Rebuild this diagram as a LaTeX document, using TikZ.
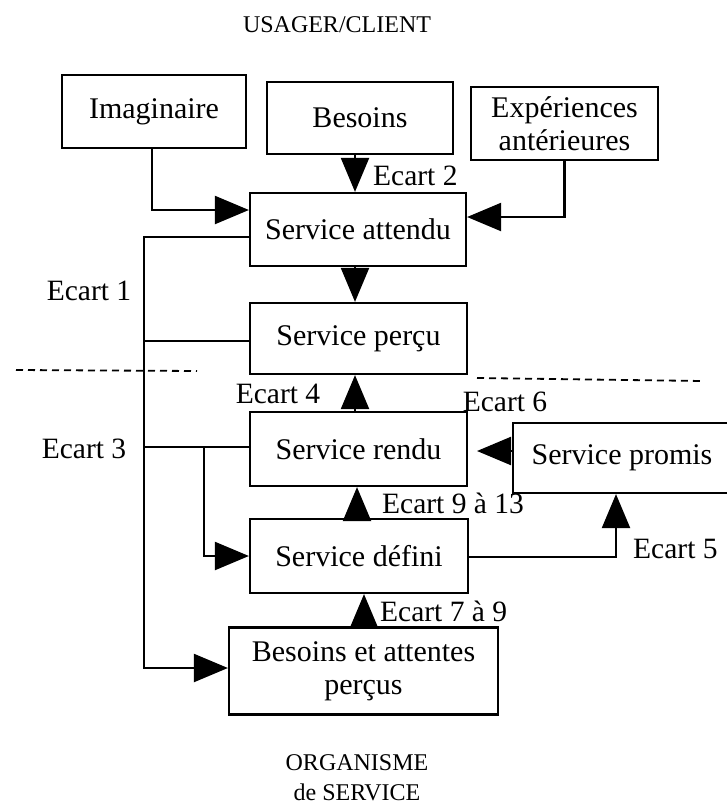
\documentclass[tikz,border=0pt]{standalone}
\usepackage{fontspec}
\setmainfont{Liberation Serif}
\usetikzlibrary{arrows.meta,calc}
\begin{document}
\begin{tikzpicture}[x=1pt,y=-1pt,
  lw/.style={line width=2.2pt},
  box/.style={draw,lw,inner sep=0pt,align=center,font=\fontsize{30}{33}\selectfont},
  lab/.style={inner sep=0pt,font=\fontsize{29.5}{33}\selectfont},
  ttl/.style={inner sep=0pt,align=center,font=\fontsize{24}{30}\selectfont},
  arr/.style={lw,-{Triangle[length=34pt,width=28pt]}},
  ln/.style={lw},
  dsh/.style={line width=1.8pt,dash pattern=on 7pt off 5pt}]
\useasboundingbox (0,0) rectangle (727,806);
% boxes
\node[box,minimum width=184pt,minimum height=73pt] (imag) at (154,111.5) {Imaginaire};
\node[box,minimum width=186pt,minimum height=72pt] (bes) at (360,118) {Besoins};
\node[box,minimum width=187pt,minimum height=73pt] (exp) at (564.5,123.5) {Expériences\\ antérieures};
\node[box,minimum width=216pt,minimum height=73pt] (att) at (358,229.5) {Service attendu};
\node[box,minimum width=217pt,minimum height=71pt] (perc) at (358.5,338.5) {Service perçu};
\node[box,minimum width=217pt,minimum height=74pt] (rendu) at (358.5,449) {Service rendu};
\node[box,minimum width=226pt,minimum height=70pt] (promis) at (626,458) {Service promis\hspace*{8pt}};
\node[box,minimum width=218pt,minimum height=74pt] (def) at (359,556) {Service défini};
\node[box,minimum width=269pt,minimum height=87pt] (bea) at (363.5,671) {Besoins et attentes\\ perçus};
% titles
\node[ttl,anchor=base] (top) at (337,32) {USAGER/CLIENT};
\node[ttl] (bot) at (357,778) {ORGANISME\\ de SERVICE};
% labels
\node[lab,anchor=base west] (e2) at (373,185) {Ecart 2};
\node[lab,anchor=base] (e1) at (89,300) {Ecart 1};
\node[lab,anchor=base] (e4) at (278,403) {Ecart 4};
\node[lab,anchor=base] (e6) at (505,411) {Ecart 6};
\node[lab,anchor=base] (e3) at (84,458) {Ecart 3};
\node[lab,anchor=base west] (e913) at (382,513) {Ecart 9 à 13};
\node[lab,anchor=base west] (e5) at (633,558) {Ecart 5};
\node[lab,anchor=base west] (e79) at (380,621) {Ecart 7 à 9};
% coordinates
\coordinate (L1) at (144,237);
\coordinate (L2) at (144,668);
\coordinate (B1) at (204,447);
\coordinate (R1) at (616,557);
\coordinate (ptip) at (477,451);
\coordinate (dl1) at (16,370);
\coordinate (dl2) at (197,371);
\coordinate (dr1) at (477,378);
\coordinate (dr2) at (702,381);
% connectors
\draw[arr] (imag.south -| 152,0) |- ([yshift=19.5pt]att.west);
\draw[arr] (bes.south -| 355,0) -- (att.north -| 355,0);
\draw[arr] (exp.south) |- ([yshift=12.5pt]att.east);
\draw[arr] (att.south -| 355,0) -- (perc.north -| 355,0);
\draw[arr] (rendu.north -| 355,0) -- (perc.south -| 355,0);
\draw[arr] (def.north -| 357,0) -- (rendu.south -| 357,0);
\draw[arr] (bea.north -| 364,0) -- (def.south -| 364,0);
\draw[arr] (promis.west |- ptip) -- (ptip);
\draw[arr] (def.east |- R1) -- (R1) -- (promis.south -| R1);
\draw[arr] ([yshift=-7.5pt]att.west) -- (L1) -- (L2) -- ([yshift=3pt]bea.west);
\draw[ln] ([yshift=-2.5pt]perc.west -| L1) -- ([yshift=-2.5pt]perc.west);
\draw[ln] (L1 |- B1) -- ([yshift=2pt]rendu.west);
\draw[arr] (B1) |- (def.west);
\draw[dsh] (dl1) -- (dl2);
\draw[dsh] (dr1) -- (dr2);
\end{tikzpicture}
\end{document}
